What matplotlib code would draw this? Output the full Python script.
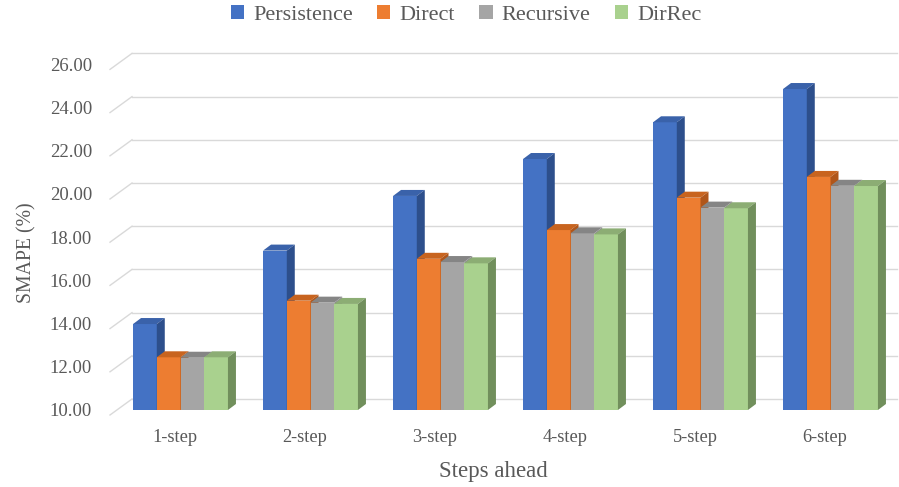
import matplotlib.pyplot as plt
import numpy as np
from matplotlib.patches import Polygon
from matplotlib.transforms import ScaledTranslation

plt.rcParams['font.family'] = ['Liberation Serif', 'DejaVu Serif']

steps = ['1-step', '2-step', '3-step', '4-step', '5-step', '6-step']
series_names = ['Persistence', 'Direct', 'Recursive', 'DirRec']
persistence = [13.98, 17.38, 19.91, 21.62, 23.32, 24.86]
direct = [12.44, 15.06, 17.00, 18.33, 19.83, 20.79]
recursive = [12.42, 14.97, 16.85, 18.18, 19.37, 20.38]
dirrec = [12.44, 14.91, 16.79, 18.13, 19.34, 20.37]
yticks = [10, 12, 14, 16, 18, 20, 22, 24, 26]

front_cols = ['#4472C4', '#ED7D31', '#A5A5A5', '#A9D18E']
top_cols = ['#3A62AA', '#C8641F', '#858585', '#8CAD74']
side_cols = ['#2D4F8C', '#B0561A', '#8E8E8E', '#718F5C']
txt = '#595959'

W, H, DPI = 899, 487, 100
fig = plt.figure(figsize=(W / DPI, H / DPI), dpi=DPI)
# axes = front plane of the bars (pixel positions)
left_px, right_px, top_px, bot_px = 115.5, 895.5, 64.4, 410
ax = fig.add_axes([left_px / W, 1 - bot_px / H, (right_px - left_px) / W, (bot_px - top_px) / H])
ax.set_xlim(-0.5, 5.5)
ax.set_ylim(10, 26)
for s in ax.spines.values():
    s.set_visible(False)

px_x = (right_px - left_px) / 6.0
px_y = (bot_px - top_px) / 16.0

def shifted(dx, dy):
    return ax.transData + ScaledTranslation(dx / DPI, dy / DPI, fig.dpi_scale_trans)

# back wall gridlines + left wall diagonals
back = shifted(16.5, 11)
x_end = 5.5 + (897 - 16.5 - right_px) / px_x
for v in yticks:
    ax.plot([-0.5, x_end], [v, v], color='#D9D9D9', lw=1, transform=back, clip_on=False, zorder=0)
    xa, ya = ax.transData.transform((-0.5, v))
    ax.plot([xa - 5.5, xa + 16.5], [ya - 5, ya + 11], color='#D9D9D9', lw=1,
            transform=None, clip_on=False, zorder=0)

# 3d bars, drawn left to right so later ones cover the side faces
data = [persistence, direct, recursive, dirrec]
bw = 0.73 / 4
ddx = 8 / px_x
ddy = 6 / px_y
x = np.arange(len(steps))
z = 2
for g in range(len(steps)):
    for i, vals in enumerate(data):
        x0 = x[g] - 0.365 + i * bw
        x1 = x0 + bw
        v = vals[g]
        ax.add_patch(Polygon([(x0, 10), (x1, 10), (x1, v), (x0, v)], closed=True,
                             fc=front_cols[i], ec='none', zorder=z, clip_on=False,
                             label=series_names[i] if g == 0 else None))
        ax.add_patch(Polygon([(x0, v), (x1, v), (x1 + ddx, v + ddy), (x0 + ddx, v + ddy)],
                             closed=True, fc=top_cols[i], ec='none', zorder=z, clip_on=False))
        ax.add_patch(Polygon([(x1, 10), (x1 + ddx, 10 + ddy), (x1 + ddx, v + ddy), (x1, v)],
                             closed=True, fc=side_cols[i], ec='none', zorder=z, clip_on=False))
        z += 1

ax.set_yticks(yticks)
ax.set_yticklabels(['%.2f' % t for t in yticks], fontsize=13.5, color=txt)
ax.tick_params(axis='y', length=0, pad=17)
ax.set_xticks([])

# category labels sit under the front plane
lab_tr = shifted(-5.5, -28)
for g, lab in enumerate(steps):
    ax.text(x[g], 10, lab, transform=lab_tr, ha='center', va='center', fontsize=13.3, color=txt)

fig.text(27 / W, 1 - 253 / H, 'SMAPE (%)', rotation=90, ha='center', va='center', fontsize=14.2, color=txt)
fig.text(493 / W, 1 - 471 / H, 'Steps ahead', ha='center', va='center', fontsize=16.5, color=txt)

fig.legend(loc='center', bbox_to_anchor=(466 / W, 1 - 15 / H), ncol=4, frameon=False,
           fontsize=16, labelcolor=txt, handlelength=0.6, handleheight=0.6,
           handletextpad=0.4, columnspacing=1.1)

fig.savefig('out.png', dpi=DPI)
